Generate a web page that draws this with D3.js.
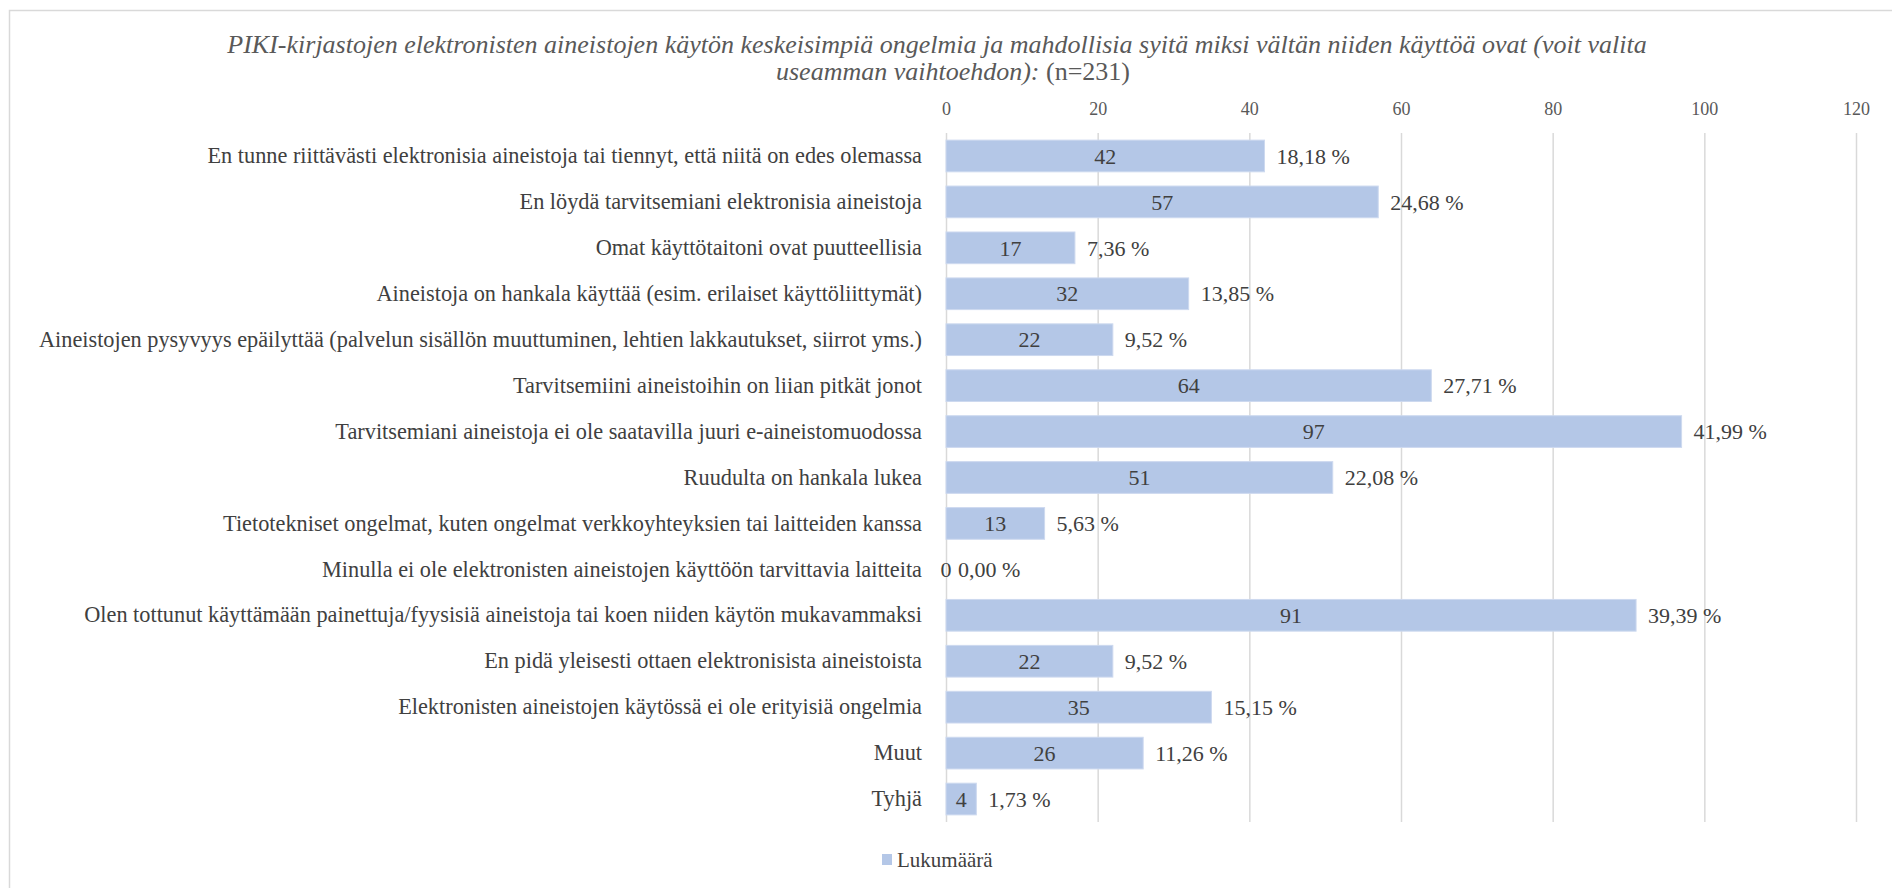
<!DOCTYPE html>
<html>
<head>
<meta charset="utf-8">
<script src="https://cdn.jsdelivr.net/npm/d3@7"></script>
<style>
  body { margin: 0; background: #fff; }
</style>
</head>
<body>
<div id="chart"></div>
<script>
// Data
const categories = [
    "En tunne riittävästi elektronisia aineistoja tai tiennyt, että niitä on edes olemassa",
    "En löydä tarvitsemiani elektronisia aineistoja",
    "Omat käyttötaitoni ovat puutteellisia",
    "Aineistoja on hankala käyttää (esim. erilaiset käyttöliittymät)",
    "Aineistojen pysyvyys epäilyttää (palvelun sisällön muuttuminen, lehtien lakkautukset, siirrot yms.)",
    "Tarvitsemiini aineistoihin on liian pitkät jonot",
    "Tarvitsemiani aineistoja ei ole saatavilla juuri e-aineistomuodossa",
    "Ruudulta on hankala lukea",
    "Tietotekniset ongelmat, kuten ongelmat verkkoyhteyksien tai laitteiden kanssa",
    "Minulla ei ole elektronisten aineistojen käyttöön tarvittavia laitteita",
    "Olen tottunut käyttämään painettuja/fyysisiä aineistoja tai koen niiden käytön mukavammaksi",
    "En pidä yleisesti ottaen elektronisista aineistoista",
    "Elektronisten aineistojen käytössä ei ole erityisiä ongelmia",
    "Muut",
    "Tyhjä"
];
const counts = [42, 57, 17, 32, 22, 64, 97, 51, 13, 0, 91, 22, 35, 26, 4];
const shares = ["18,18 %", "24,68 %", "7,36 %", "13,85 %", "9,52 %", "27,71 %", "41,99 %",
    "22,08 %", "5,63 %", "0,00 %", "39,39 %", "9,52 %", "15,15 %", "11,26 %", "1,73 %"];
const xTicks = [0, 20, 40, 60, 80, 100, 120];
const seriesName = "Lukumäärä";
const titleLine1 = "PIKI-kirjastojen elektronisten aineistojen käytön keskeisimpiä ongelmia ja mahdollisia syitä miksi vältän niiden käyttöä ovat (voit valita";
const titleLine2 = "useamman vaihtoehdon):";
const titleSuffix = " (n=231)";

const W = 1892, H = 888;
const margin = { top: 133, right: 36, bottom: 66, left: 946 };
const width = W - margin.left - margin.right;
const height = H - margin.top - margin.bottom;

const FONT = "'Liberation Serif', Tinos, 'Times New Roman', serif";
const barColor = "#b4c7e7";
const textColor = "#404040";
const axisColor = "#595959";
const gridColor = "#d9d9d9";

const root = d3.select("#chart")
    .append("svg")
    .attr("width", W)
    .attr("height", H);

root.append("rect")
    .attr("width", W).attr("height", H)
    .attr("fill", "#fff");

// chart frame
root.append("rect")
    .attr("x", 9.5).attr("y", 10.5)
    .attr("width", W + 20).attr("height", H + 20)
    .attr("fill", "none")
    .attr("stroke", gridColor)
    .attr("stroke-width", 1.5);

// Title
const title = root.append("text")
    .attr("text-anchor", "middle")
    .attr("fill", axisColor)
    .attr("font-size", "26px");
title.append("tspan")
    .attr("x", 937).attr("y", 53)
    .attr("font-style", "italic")
    .text(titleLine1);
const t2 = title.append("tspan")
    .attr("x", 953).attr("y", 80);
t2.append("tspan").attr("font-style", "italic").text(titleLine2);
t2.append("tspan").text(titleSuffix);

const svg = root.append("g")
    .attr("transform", `translate(${margin.left},${margin.top})`);

// Scales
const x = d3.scaleLinear()
    .domain([0, 120])
    .range([0, width]);

const y = d3.scaleBand()
    .domain(categories)
    .range([0, height])
    .paddingInner(0.31)
    .paddingOuter(0.155);

// Grid
svg.append("g")
    .attr("class", "grid")
    .call(d3.axisBottom(x)
        .tickValues(xTicks)
        .tickSize(height)
        .tickFormat("")
    )
    .call(g => g.select(".domain").remove())
    .call(g => g.selectAll("line").attr("stroke", gridColor).attr("stroke-width", 1.5));

// Top axis labels
svg.append("g")
    .attr("transform", "translate(0,-18)")
    .call(d3.axisTop(x).tickValues(xTicks).tickSize(0).tickPadding(0))
    .attr("font-size", "18px")
    .call(g => g.select(".domain").remove())
    .call(g => g.selectAll("text").attr("fill", axisColor));

// Category labels
svg.append("g")
    .call(d3.axisLeft(y).tickSize(0).tickPadding(24))
    .attr("font-size", "22.3px")
    .call(g => g.select(".domain").remove())
    .call(g => g.selectAll("text").attr("fill", textColor));

// Bars
svg.selectAll(".bar")
    .data(counts)
    .join("rect")
    .attr("class", "bar")
    .attr("y", (d, i) => y(categories[i]))
    .attr("height", y.bandwidth())
    .attr("x", x(0))
    .attr("width", d => x(d) - x(0))
    .attr("fill", barColor)
    .attr("stroke", d => d > 0 ? "#cdd9ef" : "none")
    .attr("stroke-width", 1);

// Value labels (inside bar)
svg.selectAll(".value-label")
    .data(counts)
    .join("text")
    .attr("class", "value-label")
    .attr("x", d => (x(0) + x(d)) / 2)
    .attr("y", (d, i) => y(categories[i]) + y.bandwidth() / 2)
    .attr("dy", "0.35em")
    .attr("text-anchor", "middle")
    .attr("font-size", "22px")
    .attr("fill", textColor)
    .text(d => d);

// Share labels (outside bar)
svg.selectAll(".share-label")
    .data(counts)
    .join("text")
    .attr("class", "share-label")
    .attr("x", d => x(d) + 12)
    .attr("y", (d, i) => y(categories[i]) + y.bandwidth() / 2)
    .attr("dy", "0.35em")
    .attr("font-size", "22px")
    .attr("fill", textColor)
    .text((d, i) => shares[i]);

// Legend
const legend = root.append("g")
    .attr("transform", "translate(882,854)");
legend.append("rect")
    .attr("width", 10).attr("height", 11)
    .attr("fill", barColor);
legend.append("text")
    .attr("x", 15).attr("y", 6)
    .attr("dy", "0.35em")
    .attr("font-size", "21px")
    .attr("fill", textColor)
    .text(seriesName);

// serif face on every text node (d3 axes default to sans-serif)
root.selectAll("g, text, tspan").style("font-family", FONT);
</script>
</body>
</html>
